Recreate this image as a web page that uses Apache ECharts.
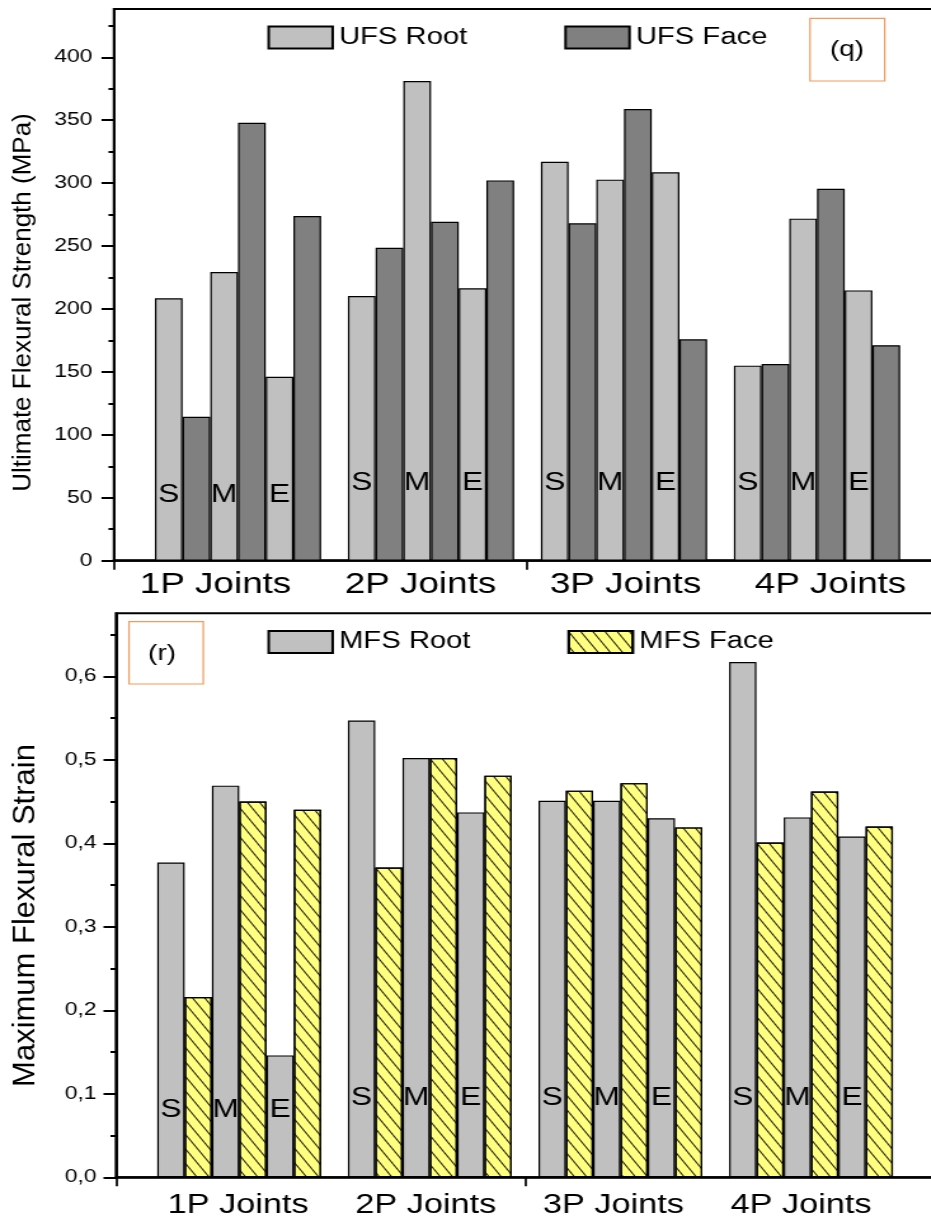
<!DOCTYPE html>
<html>
<head>
<meta charset="utf-8">
<script src="https://cdn.jsdelivr.net/npm/echarts@6/dist/echarts.min.js"></script>
<style>
  html, body { margin: 0; padding: 0; background: #fff; overflow: hidden; }
  #chart { height: 1221px; transform-origin: 0 0; }
</style>
</head>
<body>
<div id="chart"></div>
<script>
// ---- data -------------------------------------------------------------
const joints = ['1P Joints', '2P Joints', '3P Joints', '4P Joints'];
const spots = ['S', 'M', 'E'];

// Ultimate flexural strength (MPa); each row is one joint type: [S, M, E]
const ufsRoot = [[208.5, 229.4, 146.2], [210.3, 381.2, 216.4], [317.0, 302.8, 308.6], [155.0, 271.8, 214.8]];
const ufsFace = [[114.4, 348.0, 273.9], [248.7, 269.4, 302.2], [268.1, 358.9, 175.9], [156.3, 295.6, 171.2]];

// Maximum flexural strain; each row is one joint type: [S, M, E]
const mfsRoot = [[0.377, 0.469, 0.146], [0.547, 0.502, 0.437], [0.451, 0.451, 0.430], [0.617, 0.431, 0.408]];
const mfsFace = [[0.216, 0.450, 0.440], [0.371, 0.502, 0.481], [0.463, 0.472, 0.419], [0.401, 0.462, 0.420]];

// axis ticks
const ufsTicks = [0, 50, 100, 150, 200, 250, 300, 350, 400];
const ufsMinorTicks = [25, 75, 125, 175, 225, 275, 325, 375, 425];
const mfsTicks = [0, 0.1, 0.2, 0.3, 0.4, 0.5, 0.6];
const mfsMinorTicks = [0.05, 0.15, 0.25, 0.35, 0.45, 0.55, 0.65];

// ---- layout -----------------------------------------------------------
// The figure uses a wide typeface; the whole drawing is widened horizontally,
// so horizontal layout values are given in page pixels and divided by SX.
const SX = 1.27;
const PAGE_W = 931;
const px = v => v / SX;

const el = document.getElementById('chart');
el.style.width = px(PAGE_W) + 'px';
el.style.transform = 'scaleX(' + SX + ')';

const FONT = '"Liberation Sans", Arial, Helvetica, sans-serif';
const FAR_RIGHT = 960;   // the plot frame runs past the right page edge
const TICK_FONT = 18;

const panels = [
  {
    root: ufsRoot, face: ufsFace, ticks: ufsTicks, minor: ufsMinorTicks, yMax: 438.4, step: 50,
    axisX: 114, unitX: 413, top: 9, zero: 560.7,
    barLeft: 141.5, barSpan: 772, barW: 27.7,
    labLeft: 113, labSpan: 820, labFont: 29, labMargin: 9.5, tickMargin: 21.5,
    rootName: 'UFS Root', faceName: 'UFS Face',
    rootColor: '#c0c0c0', faceColor: '#808080', hatch: false,
    letterRise: [66, 78, 78, 78], legendTop: 25.5,
    fmt: v => String(v)
  },
  {
    root: mfsRoot, face: mfsFace, ticks: mfsTicks, minor: mfsMinorTicks, yMax: 0.6754, step: 0.1,
    axisX: 116, unitX: 409, top: 613.3, zero: 1177.3,
    barLeft: 143.9, barSpan: 762.4, barW: 27.3,
    labLeft: 144.2, labSpan: 750.8, labFont: 27, labMargin: 15, tickMargin: 19.5,
    rootName: 'MFS Root', faceName: 'MFS Face',
    rootColor: '#c0c0c0', faceColor: '#ffff80', hatch: true,
    letterRise: [67, 79, 79, 79], legendTop: 630,
    fmt: v => v.toFixed(1).replace('.', ',')
  }
];

// back-slanted hatching for the face bars
const hatchDecal = {
  symbol: 'rect',
  symbolSize: 1,
  dashArrayX: [1, 0],
  dashArrayY: [1, 7],
  rotation: 0.986,
  color: 'rgba(0,0,0,0.9)'
};

const grid = [], xAxis = [], yAxis = [], series = [], legend = [];

panels.forEach(p => {
  const h = p.zero - p.top;
  const g0 = grid.length, x0 = xAxis.length, y0 = yAxis.length;
  const gridBase = { top: p.top, height: h, containLabel: false, outerBoundsMode: 'none' };
  const isTick = v => p.ticks.some(t => Math.abs(t - v) < 1e-9);

  // frame with the axes
  grid.push(Object.assign({}, gridBase, {
    left: px(p.axisX), width: px(FAR_RIGHT - p.axisX),
    show: true, borderColor: '#000', borderWidth: 2, backgroundColor: 'transparent'
  }));
  // bar groups
  grid.push(Object.assign({}, gridBase, { left: px(p.barLeft), width: px(p.barSpan) }));
  // group captions
  grid.push(Object.assign({}, gridBase, { left: px(p.labLeft), width: px(p.labSpan) }));

  xAxis.push({
    type: 'value', gridIndex: g0, position: 'bottom',
    min: 0, max: (FAR_RIGHT - p.axisX) / p.unitX, interval: 1,
    axisLine: { show: true, onZero: false, lineStyle: { color: '#000', width: 2.5 } },
    axisTick: { show: true, length: 9, lineStyle: { color: '#000', width: px(2.2) } },
    axisLabel: { show: false }, splitLine: { show: false }
  });
  xAxis.push({ type: 'category', gridIndex: g0 + 1, data: joints, show: false });
  xAxis.push({
    type: 'category', gridIndex: g0 + 2, data: joints, position: 'bottom',
    axisLine: { show: false }, axisTick: { show: false },
    axisLabel: { fontSize: p.labFont, color: '#000', margin: p.labMargin, fontFamily: FONT },
    splitLine: { show: false }
  });

  yAxis.push({
    type: 'value', gridIndex: g0, position: 'left', min: 0, max: p.yMax, interval: p.step,
    axisLine: { show: true, onZero: false, lineStyle: { color: '#000', width: px(2.4) } },
    axisTick: { show: true, customValues: p.ticks, length: px(12.5), lineStyle: { color: '#000', width: 2 } },
    axisLabel: {
      show: true, showMaxLabel: false,
      formatter: v => (isTick(v) ? '{t|' + p.fmt(v) + '}' : ''),
      rich: { t: { fontSize: TICK_FONT, fontFamily: FONT, color: '#000' } },
      fontSize: TICK_FONT, color: '#000', margin: px(p.tickMargin), fontFamily: FONT
    },
    splitLine: { show: false }
  });
  yAxis.push({
    type: 'value', gridIndex: g0, position: 'left', min: 0, max: p.yMax,
    axisLine: { show: false },
    axisTick: { show: true, customValues: p.minor, length: px(5.5), lineStyle: { color: '#000', width: 2 } },
    axisLabel: { show: false }, splitLine: { show: false }
  });
  yAxis.push({ type: 'value', gridIndex: g0 + 1, min: 0, max: p.yMax, show: false });
  yAxis.push({ type: 'value', gridIndex: g0 + 2, min: 0, max: p.yMax, show: false });

  spots.forEach((spot, j) => {
    series.push({
      type: 'bar', name: p.rootName, xAxisIndex: x0 + 1, yAxisIndex: y0 + 2,
      barWidth: px(p.barW), barGap: '0%',
      itemStyle: { color: p.rootColor, borderColor: '#000', borderWidth: 1.2 },
      label: { show: true, position: 'insideBottom', formatter: spot, fontSize: 25, lineHeight: 25,
               color: '#000', fontFamily: FONT },
      emphasis: { disabled: true },
      data: joints.map((_, g) => ({ value: p.root[g][j], label: { distance: p.letterRise[g] - 12.5 } }))
    });
    const faceStyle = { color: p.faceColor, borderColor: '#000', borderWidth: 1.2 };
    if (p.hatch) faceStyle.decal = hatchDecal;
    series.push({
      type: 'bar', name: p.faceName, xAxisIndex: x0 + 1, yAxisIndex: y0 + 2,
      barWidth: px(p.barW), barGap: '0%',
      itemStyle: faceStyle,
      emphasis: { disabled: true },
      data: joints.map((_, g) => p.face[g][j])
    });
  });

  legend.push({
    data: [p.rootName, p.faceName], left: px(267.4), top: p.legendTop, padding: 0,
    icon: 'rect', itemWidth: px(64), itemHeight: 22, itemGap: px(97),
    selectedMode: false,
    textStyle: { fontSize: 23, color: '#000', fontFamily: FONT }
  });
});

function panelTag(text, x, y, w, hgt, tx, ty) {
  return [
    { type: 'rect', shape: { x: px(x), y: y, width: px(w), height: hgt },
      style: { fill: 'none', stroke: '#f29a5c', lineWidth: 1.2 } },
    { type: 'text', x: px(tx), y: ty,
      style: { text: text, font: '22px ' + FONT, fill: '#000',
               align: 'center', verticalAlign: 'middle', textAlign: 'center', textVerticalAlign: 'middle' } }
  ];
}

function axisTitle(text, cx, cy, size) {
  // vertical title; scaleY keeps the glyph thickness unaffected by the page widening
  return { type: 'text', x: px(cx), y: cy, rotation: Math.PI / 2, scaleY: 1 / SX,
    style: { text: text, font: size + 'px ' + FONT, fill: '#000',
             align: 'center', verticalAlign: 'middle', textAlign: 'center', textVerticalAlign: 'middle' } };
}

const graphic = [].concat(
  panelTag('(q)', 810, 18.3, 74.7, 62.7, 847, 50),
  panelTag('(r)', 129, 621.7, 74.3, 62.3, 162, 653.5),
  [axisTitle('Ultimate Flexural Strength (MPa)', 23, 302.5, 26),
   axisTitle('Maximum Flexural Strain', 26, 915.5, 31)]
);

const chart = echarts.init(el, null, { renderer: 'canvas' });
chart.setOption({
  animation: false,
  backgroundColor: '#fff',
  textStyle: { fontFamily: FONT },
  grid, xAxis, yAxis, series, legend, graphic
});
</script>
</body>
</html>
